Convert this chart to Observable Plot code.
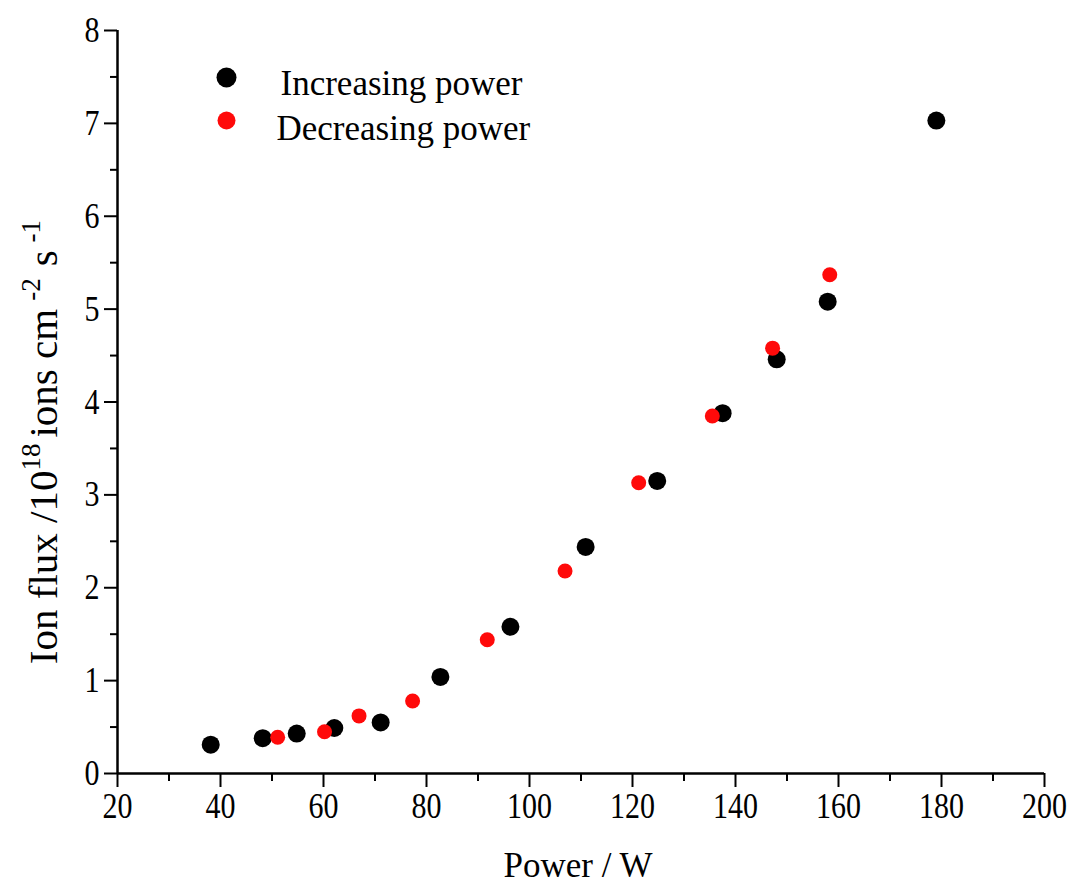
<!DOCTYPE html>
<html><head><meta charset="utf-8">
<script src="https://cdn.jsdelivr.net/npm/d3@7"></script>
<script src="https://cdn.jsdelivr.net/npm/@observablehq/plot@0.6"></script>
<style>body{margin:0;background:#fff;}</style>
</head><body><div id="chart"></div>
<script>
// Increasing power series
const incPower = [38.1, 48.2, 54.8, 62.1, 71.1, 82.7, 96.3, 110.9, 124.8, 137.5, 148.0, 157.9, 179.0];
const incFlux  = [0.31, 0.38, 0.43, 0.49, 0.55, 1.04, 1.58, 2.44, 3.15, 3.88, 4.46, 5.08, 7.03];
// Decreasing power series
const decPower = [51.1, 60.2, 66.9, 77.3, 91.8, 106.9, 121.2, 135.5, 147.2, 158.3];
const decFlux  = [0.39, 0.45, 0.62, 0.78, 1.44, 2.18, 3.13, 3.85, 4.58, 5.37];
// ticks
const xMajor = [20, 40, 60, 80, 100, 120, 140, 160, 180, 200];
const xMinor = [30, 50, 70, 90, 110, 130, 150, 170, 190];
const yMajor = [0, 1, 2, 3, 4, 5, 6, 7, 8];
const yMinor = [0.5, 1.5, 2.5, 3.5, 4.5, 5.5, 6.5, 7.5];
// legend
const seriesNames = ["Increasing power", "Decreasing power"];
const seriesColors = ["#000000", "#ff0a0a"];
const xTitle = "Power / W";

const inc = incPower.map((p, i) => ({power: p, flux: incFlux[i]}));
const dec = decPower.map((p, i) => ({power: p, flux: decFlux[i]}));
const legend = seriesNames.map((name, i) => ({name, color: seriesColors[i], i}));

const font = "'Liberation Serif', 'Times New Roman', serif";

const plot = Plot.plot({
  width: 1071, height: 884,
  marginLeft: 117, marginRight: 27, marginTop: 30, marginBottom: 111,
  style: {fontFamily: font, fontSize: "30px", color: "#000", background: "#fff", overflow: "visible"},
  x: {domain: [20, 200]},
  y: {domain: [0, 8]},
  marks: [
    Plot.axisX({ticks: xMajor, tickSize: 14, tickPadding: 5, strokeWidth: 2, label: null, tickFormat: d => String(d)}),
    Plot.axisX({ticks: xMinor, tickSize: 8, strokeWidth: 2, label: null, tickFormat: () => ""}),
    Plot.axisY({ticks: yMajor, tickSize: 13, tickPadding: 5, strokeWidth: 2, label: null, tickFormat: d => String(d)}),
    Plot.axisY({ticks: yMinor, tickSize: 7, strokeWidth: 2, label: null, tickFormat: () => ""}),
    Plot.ruleY([0], {strokeWidth: 2.5}),
    Plot.ruleX([20], {strokeWidth: 2.5}),
    Plot.dot(inc, {x: "power", y: "flux", r: 9, fill: seriesColors[0], stroke: "none"}),
    Plot.dot(dec, {x: "power", y: "flux", r: 7.5, fill: seriesColors[1], stroke: "none"}),
    // legend
    Plot.dot([legend[0]], {frameAnchor: "top-left", dx: 109, dy: 47, r: 10, fill: d => d.color}),
    Plot.dot([legend[1]], {frameAnchor: "top-left", dx: 109, dy: 90, r: 9, fill: d => d.color}),
    Plot.text([legend[0]], {frameAnchor: "top-left", dx: 163, dy: 53, text: "name", textAnchor: "start", lineAnchor: "middle", fontSize: 35, fill: "#000"}),
    Plot.text([legend[1]], {frameAnchor: "top-left", dx: 159, dy: 98, text: "name", textAnchor: "start", lineAnchor: "middle", fontSize: 35, fill: "#000"})
  ]
});

const svg = d3.select(plot);
// stretch tick labels vertically like the reference's narrow digits
svg.selectAll("g[aria-label='x-axis tick label'] text, g[aria-label='y-axis tick label'] text")
  .attr("transform", function() {
    const t = this.getAttribute("transform") || "";
    return t + " scale(1,1.2)";
  });
// x title
svg.append("text")
  .attr("x", 578).attr("y", 877)
  .attr("text-anchor", "middle")
  .attr("font-family", font).attr("font-size", 35).attr("fill", "#000")
  .text(xTitle);
// y title with superscripts
const yt = svg.append("text")
  .attr("transform", "translate(57,442) rotate(-90)")
  .attr("text-anchor", "middle")
  .attr("font-family", font).attr("font-size", 41).attr("fill", "#000");
yt.append("tspan").text("Ion flux /10");
yt.append("tspan").attr("font-size", 27).attr("dy", -17).text("18");
yt.append("tspan").attr("dy", 17).attr("dx", 6).text("ions cm");
yt.append("tspan").attr("font-size", 27).attr("dy", -17).attr("dx", 8).text("-2");
yt.append("tspan").attr("dy", 17).attr("dx", 12).text("s");
yt.append("tspan").attr("font-size", 27).attr("dy", -17).attr("dx", 8).text("-1");

document.getElementById("chart").appendChild(plot);
</script>
</body></html>
